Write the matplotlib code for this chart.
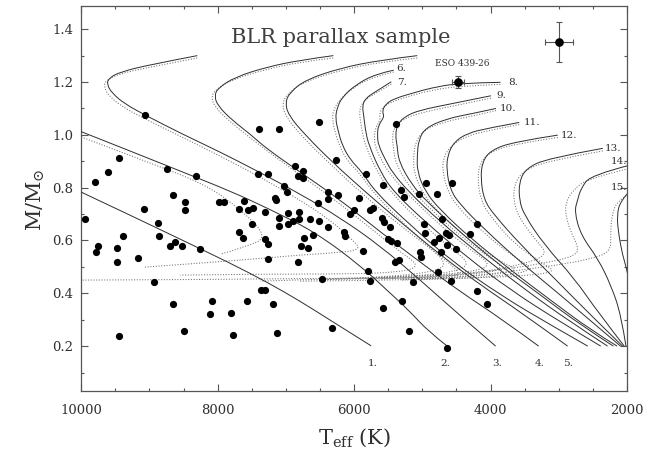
import matplotlib
matplotlib.use("Agg")
import matplotlib.pyplot as plt
from matplotlib.ticker import MultipleLocator, FixedLocator
from matplotlib.path import Path
from matplotlib.patches import PathPatch

plt.rcParams['font.family'] = ['DejaVu Serif']
plt.rcParams['mathtext.fontset'] = 'dejavuserif'

# ---------------- data: white dwarfs ----------------
star_T = [9070, 7400, 7095, 6520, 5380, 9440, 9610, 9800, 8750, 8320, 7410, 7260, 8660, 6265,
          6860, 6755, 6830, 6755, 7035, 6985, 7155, 6390, 6230, 5925, 6390, 5820, 5580, 5320,
          5275, 5050, 4950, 4780, 4570, 9940, 9080, 8480, 8480, 7975, 7910, 7690, 7610, 7560,
          7485, 7310, 8880, 8855, 9395, 9760, 9780, 9470, 9475, 9170, 8705, 8630, 8530, 8255,
          7695, 7625, 7500, 7310, 8930, 8650, 8080, 8115, 7800, 7575, 7370, 7300, 8490, 7780,
          9440, 7140, 6530, 6005, 6055, 5730, 5760, 6975, 6805, 6805, 6890, 7100, 7100, 6975,
          6640, 6510, 6390, 6600, 6740, 6775, 6670, 6155, 6130, 5870, 7265, 7265, 6830, 6470,
          5795, 5770, 5590, 5555, 5470, 5500, 5455, 5370, 5395, 5335, 5030, 5015, 4980, 4965,
          4830, 4760, 4710, 4660, 4635, 4720, 4770, 5140, 7195, 5575, 5295, 6325, 7130, 5190,
          4635, 4205, 4305, 4605, 4510, 4585, 4205, 4045]
star_M = [1.075, 1.021, 1.021, 1.050, 1.040, 0.912, 0.860, 0.822, 0.869, 0.845, 0.852, 0.852,
          0.773, 0.903, 0.883, 0.862, 0.846, 0.837, 0.805, 0.782, 0.759, 0.783, 0.774, 0.762,
          0.756, 0.851, 0.811, 0.791, 0.766, 0.775, 0.818, 0.775, 0.819, 0.681, 0.718, 0.747,
          0.715, 0.747, 0.747, 0.718, 0.750, 0.715, 0.724, 0.709, 0.668, 0.617, 0.617, 0.580,
          0.555, 0.570, 0.519, 0.532, 0.579, 0.593, 0.580, 0.567, 0.633, 0.608, 0.664, 0.605,
          0.442, 0.359, 0.369, 0.321, 0.324, 0.371, 0.412, 0.412, 0.259, 0.241, 0.238, 0.753,
          0.741, 0.715, 0.699, 0.722, 0.714, 0.703, 0.709, 0.681, 0.673, 0.684, 0.656, 0.662,
          0.681, 0.673, 0.651, 0.620, 0.608, 0.581, 0.570, 0.631, 0.618, 0.560, 0.585, 0.531,
          0.517, 0.456, 0.486, 0.448, 0.684, 0.669, 0.652, 0.604, 0.599, 0.589, 0.519, 0.525,
          0.555, 0.538, 0.661, 0.627, 0.593, 0.610, 0.681, 0.627, 0.583, 0.555, 0.481, 0.444,
          0.358, 0.345, 0.370, 0.267, 0.248, 0.259, 0.191, 0.661, 0.623, 0.620, 0.567, 0.447,
          0.409, 0.358]

# ESO 439-26 and the typical error bar
eso_T, eso_M, eso_dT, eso_dM = 4480, 1.199, 85, 0.022
err_T, err_M, err_dT, err_dM = 2990, 1.351, 205, 0.077

# ---------------- isochrones (solid) ----------------
iso1_T = [10000, 9285, 8550, 7815, 7275, 6790, 6350, 5750]
iso1_M = [0.783, 0.696, 0.605, 0.514, 0.442, 0.370, 0.298, 0.201]
iso2_T = [10000, 9285, 8550, 7815, 7275, 6570, 5885, 5495, 5200, 4905, 4635]
iso2_M = [1.012, 0.939, 0.863, 0.787, 0.723, 0.632, 0.500, 0.406, 0.336, 0.254, 0.200]
iso3_T = [8300, 8990, 9430, 9595, 9625, 9550, 9360, 9065, 8550, 7965, 7420, 6790, 6200, 5615, 5030, 4440, 3925]
iso3_M = [1.300, 1.266, 1.238, 1.215, 1.192, 1.158, 1.117, 1.075, 1.007, 0.935, 0.863, 0.776, 0.685, 0.579, 0.450, 0.314, 0.200]
iso4_T = [6305, 6790, 7275, 7745, 7995, 8050, 7995, 7790, 7525, 7275, 6790, 6200, 5615, 5030, 4440, 3855, 3295]
iso4_M = [1.300, 1.283, 1.257, 1.219, 1.177, 1.147, 1.109, 1.056, 1.003, 0.946, 0.859, 0.753, 0.632, 0.518, 0.405, 0.306, 0.200]
iso5_T = [5075, 5615, 6200, 6715, 6935, 7010, 6965, 6715, 6325, 5835, 5320, 4735, 4145, 3560, 2870]
iso5_M = [1.300, 1.283, 1.253, 1.208, 1.162, 1.125, 1.075, 0.999, 0.898, 0.784, 0.670, 0.545, 0.431, 0.329, 0.200]
iso6_T = [5420, 5690, 5980, 6175, 6250, 6275, 6230, 6175, 6055, 5885, 5690, 5175, 4590, 3855, 3120, 2575]
iso6_M = [1.245, 1.230, 1.189, 1.143, 1.102, 1.062, 1.011, 0.961, 0.905, 0.860, 0.784, 0.658, 0.526, 0.393, 0.280, 0.200]
iso7_T = [5455, 5690, 5835, 5880, 5860, 5835, 5785, 5615, 5420, 4955, 4365, 3705, 2975, 2385]
iso7_M = [1.201, 1.163, 1.138, 1.109, 1.075, 1.018, 0.961, 0.860, 0.784, 0.670, 0.541, 0.412, 0.291, 0.200]
iso8_T = [3855, 4475, 4880, 5100, 5395, 5540, 5590, 5555, 5645, 5660, 5645, 5540, 5445, 5200, 4735, 4145, 3485, 2825, 2285]
iso8_M = [1.199, 1.196, 1.177, 1.161, 1.139, 1.117, 1.088, 1.069, 1.037, 0.999, 0.961, 0.905, 0.860, 0.784, 0.670, 0.545, 0.412, 0.291, 0.200]
iso9_T = [3995, 4590, 5030, 5250, 5365, 5395, 5370, 5345, 5150, 4955, 4515, 3925, 3265, 2680, 2200]
iso9_M = [1.148, 1.117, 1.094, 1.071, 1.040, 0.999, 0.961, 0.898, 0.810, 0.753, 0.647, 0.518, 0.393, 0.280, 0.200]
iso10_T = [3920, 4295, 4630, 4955, 5055, 5075, 5075, 4955, 4735, 4295, 3705, 3120, 2530, 2145]
iso10_M = [1.100, 1.079, 1.062, 1.027, 0.980, 0.923, 0.860, 0.784, 0.715, 0.609, 0.488, 0.374, 0.261, 0.200]
iso11_T = [3580, 4045, 4340, 4535, 4630, 4645, 4590, 4440, 4075, 3560, 2975, 2460, 2095]
iso11_M = [1.047, 1.025, 1.006, 0.973, 0.923, 0.867, 0.791, 0.734, 0.639, 0.518, 0.393, 0.280, 0.200]
iso12_T = [3015, 3650, 3995, 4120, 4145, 4095, 3945, 3555, 3015, 2530, 2065]
iso12_M = [0.999, 0.974, 0.942, 0.898, 0.835, 0.753, 0.696, 0.583, 0.444, 0.317, 0.200]
iso13_T = [2355, 3165, 3480, 3580, 3580, 3505, 3210, 2770, 2430, 2040]
iso13_M = [0.949, 0.911, 0.873, 0.822, 0.753, 0.696, 0.583, 0.456, 0.330, 0.200]
iso14_T = [1945, 2530, 2675, 2725, 2770, 2675, 2430, 2235, 2085, 2015]
iso14_M = [0.886, 0.848, 0.797, 0.753, 0.709, 0.620, 0.533, 0.431, 0.317, 0.200]
iso15_T = [1945, 2090, 2150, 2120, 2065, 1990, 1915]
iso15_M = [0.791, 0.753, 0.696, 0.620, 0.545, 0.480, 0.374]

# ---------------- isochrones (dotted, alternative models) ----------------
dot2_T = [10000, 9140, 8185, 7670, 7260, 7595, 7965]
dot2_M = [0.992, 0.908, 0.814, 0.719, 0.613, 0.575, 0.548]
dot3_T = [8300, 8990, 9460, 9650, 9665, 9595, 9390, 9095, 8550, 7965, 7375, 6790, 6350, 6055, 5880, 6350, 6790, 7275, 8260, 9080]
dot3_M = [1.291, 1.257, 1.230, 1.204, 1.181, 1.147, 1.105, 1.064, 0.995, 0.920, 0.840, 0.753, 0.677, 0.609, 0.564, 0.552, 0.545, 0.534, 0.514, 0.499]
dot4_T = [6305, 6790, 7275, 7775, 8040, 8095, 8040, 7830, 7555, 7275, 6790, 6200, 5690, 5320, 5030, 5320, 6055, 7275, 8550]
dot4_M = [1.291, 1.276, 1.249, 1.211, 1.170, 1.143, 1.105, 1.052, 0.995, 0.939, 0.848, 0.738, 0.632, 0.556, 0.503, 0.480, 0.473, 0.473, 0.469]
dot5_T = [5075, 5615, 6200, 6745, 6980, 7055, 7010, 6760, 6350, 5880, 5320, 4810, 4515, 4440, 5030, 6790, 8260, 10000]
dot5_M = [1.291, 1.276, 1.245, 1.200, 1.155, 1.120, 1.071, 0.992, 0.889, 0.776, 0.655, 0.556, 0.495, 0.465, 0.458, 0.456, 0.452, 0.450]
dot6_T = [5420, 5735, 6025, 6215, 6305, 6320, 6275, 6215, 6100, 5910, 5705, 5250, 4880, 4660, 4735, 5320, 6350, 7375]
dot6_M = [1.238, 1.219, 1.177, 1.132, 1.094, 1.056, 1.007, 0.958, 0.901, 0.852, 0.776, 0.658, 0.571, 0.518, 0.488, 0.465, 0.454, 0.446]
dot7_T = [5455, 5705, 5865, 5925, 5910, 5880, 5835, 5660, 5455, 5030, 4590, 4295, 4515, 5320, 6495]
dot7_M = [1.192, 1.155, 1.128, 1.094, 1.056, 1.011, 0.958, 0.859, 0.780, 0.670, 0.571, 0.514, 0.480, 0.461, 0.452]
dot8_T = [3855, 4475, 4880, 5130, 5425, 5585, 5630, 5615, 5690, 5705, 5690, 5585, 5485, 5235, 4780, 4295, 3970, 4295, 5030, 5910]
dot8_M = [1.191, 1.185, 1.168, 1.151, 1.128, 1.105, 1.079, 1.056, 1.026, 0.988, 0.954, 0.897, 0.855, 0.780, 0.666, 0.564, 0.507, 0.480, 0.465, 0.458]
dot9_T = [3995, 4590, 5040, 5275, 5410, 5440, 5425, 5395, 5190, 4985, 4545, 4075, 3780, 4145, 5030, 5615]
dot9_M = [1.139, 1.107, 1.083, 1.060, 1.030, 0.992, 0.954, 0.893, 0.802, 0.745, 0.639, 0.545, 0.495, 0.473, 0.461, 0.454]
dot10_T = [3920, 4295, 4645, 4985, 5100, 5130, 5125, 5000, 4765, 4325, 3855, 3560, 4000, 4735, 5320]
dot10_M = [1.092, 1.069, 1.052, 1.018, 0.973, 0.920, 0.859, 0.780, 0.708, 0.602, 0.518, 0.488, 0.469, 0.458, 0.454]
dot11_T = [3580, 4045, 4355, 4575, 4690, 4705, 4630, 4485, 4120, 3675, 3340, 3855, 4590, 5320]
dot11_M = [1.039, 1.016, 0.995, 0.961, 0.916, 0.863, 0.787, 0.727, 0.632, 0.541, 0.488, 0.465, 0.454, 0.450]
dot12_T = [3015, 3665, 4030, 4160, 4190, 4145, 4000, 3635, 3195, 3045, 3560, 4295, 5030]
dot12_M = [0.990, 0.965, 0.933, 0.889, 0.833, 0.753, 0.689, 0.583, 0.507, 0.480, 0.465, 0.458, 0.454]
dot13_T = [2355, 3180, 3530, 3650, 3665, 3590, 3340, 3150, 3560, 4145, 4880, 5760]
dot13_M = [0.939, 0.901, 0.861, 0.814, 0.753, 0.689, 0.602, 0.545, 0.507, 0.480, 0.465, 0.458]
dot14_T = [1945, 2560, 2795, 2900, 2900, 2825, 2710, 2750, 3265, 4000, 4630, 5470, 6495]
dot14_M = [0.874, 0.836, 0.791, 0.742, 0.696, 0.632, 0.575, 0.541, 0.511, 0.484, 0.465, 0.456, 0.452]
dot15_T = [1945, 2135, 2225, 2240, 2240, 2530, 3015, 3560, 4145, 4880, 5910, 6790]
dot15_M = [0.780, 0.753, 0.696, 0.620, 0.557, 0.530, 0.507, 0.488, 0.469, 0.454, 0.448, 0.446]

# isochrone labels (ages in Gyr)
lab_bottom = ['1.', '2.', '3.', '4.', '5.']
lab_bottom_T = [5795, 4735, 3980, 3350, 2930]
lab_bottom_M = [0.134, 0.134, 0.134, 0.134, 0.134]
lab_top = ['6.', '7.', '8.', '9.', '10.', '11.', '12.', '13.', '14.', '15.']
lab_top_T = [5385, 5370, 3735, 3920, 3870, 3515, 2970, 2330, 2235, 2235]
lab_top_M = [1.252, 1.199, 1.199, 1.148, 1.100, 1.047, 0.999, 0.949, 0.898, 0.800]

x_major = [10000, 8000, 6000, 4000, 2000]
y_major = [0.2, 0.4, 0.6, 0.8, 1.0, 1.2, 1.4]


def smooth_curve(ax, T, M, **kw):
    """Draw the read points as a smooth quadratic-Bezier path in data coordinates."""
    pts = list(zip(T, M))
    if len(pts) < 3:
        verts, codes = pts, [Path.MOVETO] + [Path.LINETO] * (len(pts) - 1)
    else:
        verts = [pts[0]]
        codes = [Path.MOVETO]
        for i in range(1, len(pts) - 1):
            if i < len(pts) - 2:
                end = ((pts[i][0] + pts[i + 1][0]) / 2.0, (pts[i][1] + pts[i + 1][1]) / 2.0)
            else:
                end = pts[i + 1]
            verts += [pts[i], end]
            codes += [Path.CURVE3, Path.CURVE3]
    patch = PathPatch(Path(verts, codes), fill=False, transform=ax.transData, **kw)
    ax.add_patch(patch)


# ---------------- plot ----------------
fig = plt.figure(figsize=(6.57, 4.57), dpi=100)
ax = fig.add_axes([0.1237, 0.1444, 0.8306, 0.8425])

line_c = '#2e2e2e'
dot_c = '#707070'
solids = [(iso1_T, iso1_M), (iso2_T, iso2_M), (iso3_T, iso3_M), (iso4_T, iso4_M), (iso5_T, iso5_M),
          (iso6_T, iso6_M), (iso7_T, iso7_M), (iso8_T, iso8_M), (iso9_T, iso9_M), (iso10_T, iso10_M),
          (iso11_T, iso11_M), (iso12_T, iso12_M), (iso13_T, iso13_M), (iso14_T, iso14_M), (iso15_T, iso15_M)]
dotted = [(dot2_T, dot2_M), (dot3_T, dot3_M), (dot4_T, dot4_M), (dot5_T, dot5_M), (dot6_T, dot6_M),
          (dot7_T, dot7_M), (dot8_T, dot8_M), (dot9_T, dot9_M), (dot10_T, dot10_M), (dot11_T, dot11_M),
          (dot12_T, dot12_M), (dot13_T, dot13_M), (dot14_T, dot14_M), (dot15_T, dot15_M)]
for T, M in dotted:
    smooth_curve(ax, T, M, edgecolor=dot_c, lw=0.75, ls=(0, (1.0, 1.6)), zorder=2)
for T, M in solids:
    smooth_curve(ax, T, M, edgecolor=line_c, lw=0.7, zorder=3)

ax.plot(star_T, star_M, 'o', color='black', ms=5.2, mew=0, zorder=5)
ax.errorbar([eso_T], [eso_M], xerr=[eso_dT], yerr=[eso_dM], fmt='o', color='black', ms=5.2,
            ecolor='#555555', elinewidth=0.8, capsize=2.2, capthick=0.8, zorder=5)
ax.errorbar([err_T], [err_M], xerr=[err_dT], yerr=[err_dM], fmt='o', color='black', ms=5.2,
            ecolor='#555555', elinewidth=0.8, capsize=2.2, capthick=0.8, zorder=5)

txt_c = '#303030'
for s, T, M in zip(lab_bottom, lab_bottom_T, lab_bottom_M):
    ax.text(T, M, s, fontsize=7.5, color=txt_c, ha='left', va='center')
for s, T, M in zip(lab_top, lab_top_T, lab_top_M):
    ax.text(T, M, s, fontsize=7.5, color=txt_c, ha='left', va='center')

ax.text(6200, 1.347, 'BLR parallax sample', fontsize=15, color='#404040', ha='center', va='baseline')
ax.text(4410, 1.262, 'ESO 439-26', fontsize=6.5, color=txt_c, ha='center', va='baseline')

ax.set_xlim(10000, 2000)
ax.set_ylim(0.03, 1.488)
ax.xaxis.set_major_locator(FixedLocator(x_major))
ax.xaxis.set_minor_locator(MultipleLocator(500))
ax.yaxis.set_major_locator(FixedLocator(y_major))
ax.yaxis.set_minor_locator(MultipleLocator(0.1))
ax.set_xticklabels([str(v) for v in x_major])
ax.set_yticklabels(['%.1f' % v for v in y_major])
ax.tick_params(which='both', direction='in', top=True, right=True, color='#555555',
               width=0.8, labelsize=9.5, labelcolor=txt_c)
ax.tick_params(which='major', length=5)
ax.tick_params(which='minor', length=2.5)
ax.tick_params(axis='x', pad=9)
ax.tick_params(axis='y', pad=6)
for sp in ax.spines.values():
    sp.set_color('#555555')
    sp.set_linewidth(0.9)

fig.text(0.539, 1 - 438 / 457, r'T$_{\rm eff}$ (K)', fontsize=15, color=txt_c, ha='center', va='center')
fig.text(36 / 657, 1 - 200 / 457, r'M/M$_{\odot}$', fontsize=15, color=txt_c, ha='center',
         va='center', rotation=90)

fig.savefig('out.png', dpi=100)
